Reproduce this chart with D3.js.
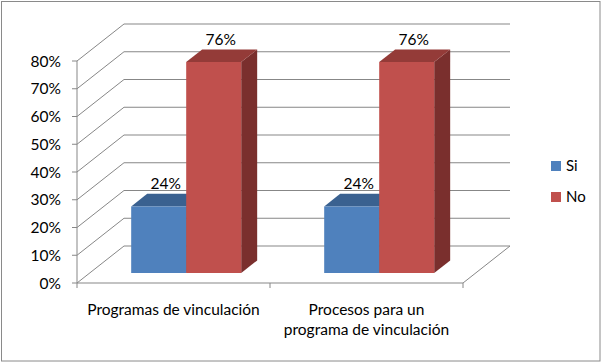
<!DOCTYPE html>
<html><head><meta charset="utf-8">
<script src="https://cdn.jsdelivr.net/npm/d3@7"></script>
<style>body{margin:0;background:#fff}svg{display:block}text{font-family:Lato,"Liberation Sans",sans-serif}</style>
</head><body><svg id="c" width="603" height="363"></svg>
<script>
const categories = [["Programas de vinculación"], ["Procesos para un", "programa de vinculación"]];
const seriesNames = ["Si", "No"];
const siValues = [0.24, 0.24];
const noValues = [0.76, 0.76];
const yTicks = [0, 0.1, 0.2, 0.3, 0.4, 0.5, 0.6, 0.7, 0.8];

const colors = {
  Si: {front: "#4F81BD", top: "#3A6190", side: "#2F4F76"},
  No: {front: "#C0504D", top: "#943B38", side: "#7A2F2D"}
};

const svg = d3.select("#c");
svg.append("rect").attr("x",1.5).attr("y",1.5).attr("width",598.5).attr("height",359.5)
  .attr("fill","#fff").attr("stroke","#8a8a8a").attr("stroke-width",1);

const x0 = 77, x1 = 463, DX = 47, DY = -37;
const y = d3.scaleLinear().domain([0, 0.8]).range([283, 61]);
const catIdx = d3.range(categories.length);
const xb = d3.scaleBand().domain(catIdx).range([x0, x1]).paddingInner(0.43).paddingOuter(0.215);
const xs = d3.scaleBand().domain(seriesNames).range([0, xb.bandwidth()]);
const dFront = 0.27, dBack = 0.61;
const P = (x, yy, d) => [x + d * DX, yy + d * DY];

const grid = "#878787";
const g = svg.append("g");
yTicks.forEach(v => {
  const a = P(x0, y(v), 0), b = P(x0, y(v), 1);
  g.append("path").attr("d", d3.line()([a, b, [x1 + DX, b[1]]]))
    .attr("fill","none").attr("stroke",grid).attr("stroke-width",1);
  g.append("line").attr("x1",x0-5).attr("x2",x0).attr("y1",y(v)).attr("y2",y(v)).attr("stroke",grid);
});
g.append("path").attr("d", d3.line()([P(x0,y(0),0), P(x1,y(0),0), P(x1,y(0),1)]))
  .attr("fill","none").attr("stroke",grid);
g.append("line").attr("x1",x0).attr("x2",x0).attr("y1",y(0.8)).attr("y2",y(0)).attr("stroke",grid);
[x0, xb(1) - xb.step()*xb.paddingInner()/2, x1].forEach(t => {
  g.append("line").attr("x1",t).attr("x2",t).attr("y1",y(0)).attr("y2",y(0)+5).attr("stroke",grid);
});

svg.append("g").selectAll("text").data(yTicks).join("text")
  .attr("x", 61).attr("y", d => y(d)).attr("dy","0.36em").attr("text-anchor","end")
  .attr("font-size",15.5).attr("fill","#000").text(d => d3.format(".0%")(d));

const bars = svg.append("g");
catIdx.forEach(i => {
  seriesNames.forEach(s => {
    const v = (s === "Si" ? siValues : noValues)[i];
    const xl = xb(i) + xs(s), xr = xl + xs.bandwidth();
    const c = colors[s];
    const fbl = P(xl, y(0), dFront), fbr = P(xr, y(0), dFront);
    const ftl = P(xl, y(v), dFront), ftr = P(xr, y(v), dFront);
    const btl = P(xl, y(v), dBack), btr = P(xr, y(v), dBack), bbr = P(xr, y(0), dBack);
    bars.append("path").attr("d", d3.line()([ftr, btr, bbr, fbr]) + "Z").attr("fill", c.side);
    bars.append("path").attr("d", d3.line()([ftl, btl, btr, ftr]) + "Z").attr("fill", c.top);
    bars.append("path").attr("d", d3.line()([fbl, ftl, ftr, fbr]) + "Z").attr("fill", c.front);
    const lp = P((xl + xr) / 2, y(v), (dFront + dBack) / 2);
    bars.append("text").attr("x", lp[0] - 1).attr("y", lp[1] - 11).attr("text-anchor","middle")
      .attr("font-size",15.5).attr("fill","#000").text(d3.format(".0%")(v));
  });
});

catIdx.forEach(i => {
  const cx = xb(i) + xb.bandwidth() / 2;
  const t = svg.append("text").attr("text-anchor","middle").attr("font-size",15.5).attr("fill","#000");
  categories[i].forEach((line, k) => {
    t.append("tspan").attr("x", cx).attr("y", 315 + k * 20).text(line);
  });
});

const lg = svg.append("g");
seriesNames.forEach((s, k) => {
  lg.append("rect").attr("x",551).attr("y",161 + k*31).attr("width",10).attr("height",10).attr("fill",colors[s].front);
  lg.append("text").attr("x",566).attr("y",166 + k*31).attr("dy","0.36em").attr("font-size",15).attr("fill","#000").text(s);
});
</script></body></html>
